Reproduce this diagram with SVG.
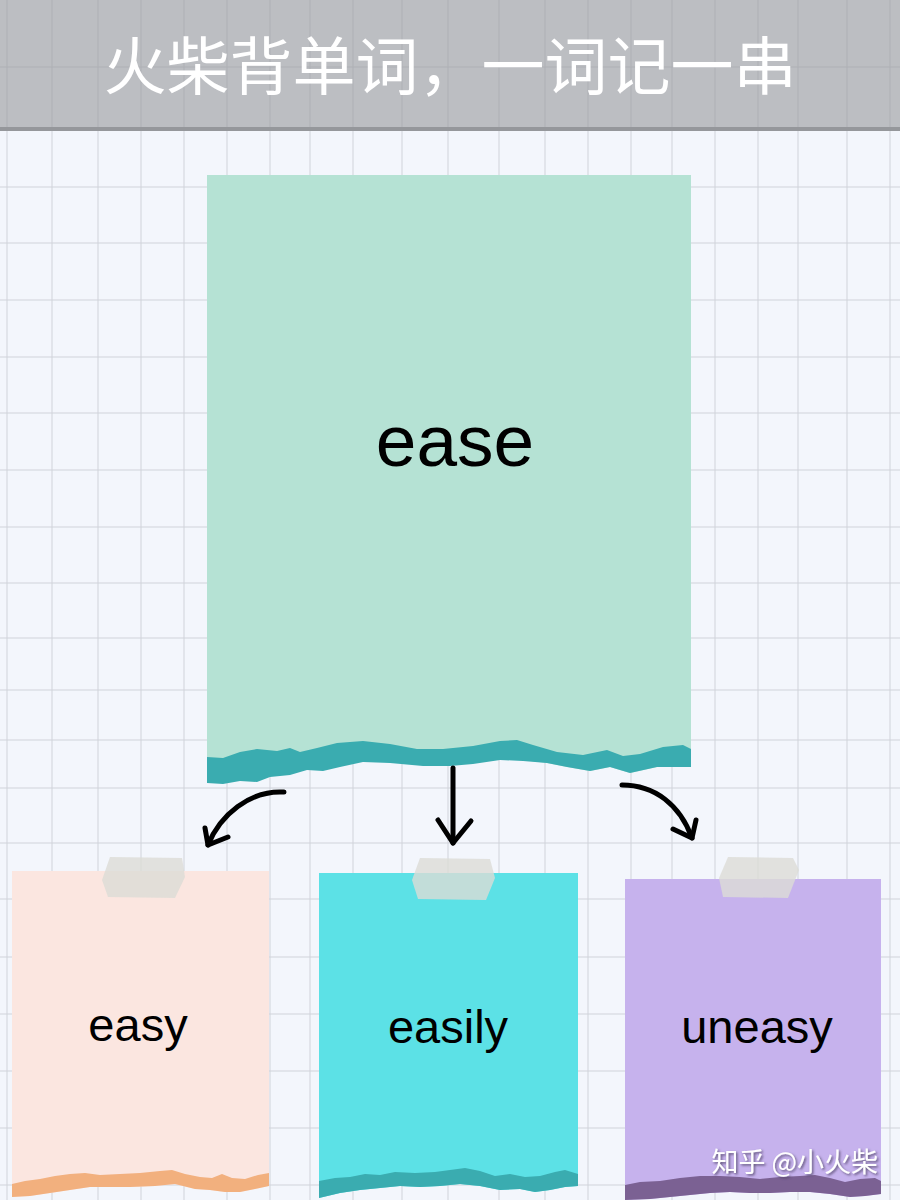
<svg xmlns="http://www.w3.org/2000/svg" width="900" height="1200" viewBox="0 0 900 1200">
<style>
.grid{stroke:#d0d3da;stroke-width:1;fill:none}
.hgrid{stroke:#aeb0b5;stroke-width:1;fill:none}
.word{font-family:"Liberation Sans",Arial,sans-serif;fill:#000;text-anchor:middle}
.tape{fill:#dcdcd6;opacity:0.8}
.arrow{fill:none;stroke:#000;stroke-width:5;stroke-linecap:round;stroke-linejoin:round}
</style>
<defs>
<filter id="sh" x="-10%" y="-30%" width="120%" height="160%">
<feDropShadow dx="1.5" dy="1.5" stdDeviation="0.8" flood-color="#4a4060" flood-opacity="0.8"/>
</filter>
</defs>
<rect x="0" y="0" width="900" height="1200" fill="#f3f6fc"/>
<g id="grid">
<path class="grid" d="M7,130V1200M52,130V1200M98,130V1200M141,130V1200M184,130V1200M227,130V1200M270,130V1200M310,130V1200M353,130V1200M402,130V1200M448,130V1200M499,130V1200M545,130V1200M588,130V1200M631,130V1200M672,130V1200M715,130V1200M758,130V1200M798,130V1200M847,130V1200M890,130V1200"/>
<path class="grid" d="M0,187H900M0,243H900M0,300H900M0,357H900M0,413H900M0,470H900M0,527H900M0,583H900M0,638H900M0,690H900M0,740H900M0,788H900M0,843H900M0,899H900M0,957H900M0,1014H900M0,1071H900M0,1128H900M0,1185H900"/>
</g>
<g id="header">
<rect x="0" y="0" width="900" height="130" fill="#bcbec2"/>
<path class="hgrid" d="M7,0V130M52,0V130M98,0V130M141,0V130M184,0V130M227,0V130M270,0V130M310,0V130M353,0V130M402,0V130M448,0V130M499,0V130M545,0V130M588,0V130M631,0V130M672,0V130M715,0V130M758,0V130M798,0V130M847,0V130M890,0V130M0,67H900"/>
<rect x="0" y="127" width="900" height="4" fill="#95979b"/>
<text x="450" y="89" font-family="'Noto Sans CJK SC',sans-serif" font-size="63" fill="#ffffff" text-anchor="middle">火柴背单词，一词记一串</text>
</g>
<g id="node-ease">
<path fill="#b5e2d4" d="M207,175H691V767L657,767L630,773L610,767L590,771L567,767L547,763L523,760L500,759L473,763L450,765L423,765L390,762L363,760L340,765L323,770L307,768L290,773L270,775L257,781L240,780L223,783L207,782Z"/>
<path fill="#3aacb0" d="M207,757L223,758L240,752L257,749L277,751L290,748L300,752L317,748L337,743L363,741L390,744L417,749L443,749L473,746L500,741L517,740L533,745L557,752L583,755L607,750L623,756L640,754L663,747L683,745L691,749L691,767L657,767L630,773L610,767L590,771L567,767L547,763L523,761L500,760L473,764L450,766L423,766L390,763L363,762L340,767L323,771L307,770L290,775L270,777L257,782L240,781L223,784L207,783Z"/>
<text class="word" x="455" y="466" font-size="73">ease</text>
</g>
<g id="connectors">
<path class="arrow" d="M284,792C250,790 220,815 208,845"/>
<path class="arrow" d="M205,828L208,845L228,837"/>
<path class="arrow" d="M453,768L453,843" stroke-width="6"/>
<path class="arrow" d="M438,820L453,843L471,821" stroke-width="6"/>
<path class="arrow" d="M622,785C655,785 680,805 692,838"/>
<path class="arrow" d="M673,829L692,838L696,820"/>
</g>
<g id="node-easy">
<path fill="#fbe6e0" d="M12,871H269V1186L255,1189L240,1192L225,1192L210,1190L195,1189L175,1184L155,1186L130,1187L110,1187L90,1187L70,1190L50,1193L30,1196L12,1197Z"/>
<path fill="#f2b07e" d="M12,1184L25,1181L40,1179L55,1176L70,1174L85,1173L100,1175L120,1174L140,1173L160,1171L172,1170L185,1174L200,1177L212,1178L222,1174L232,1178L245,1179L258,1175L269,1173L269,1186L255,1189L240,1192L225,1192L210,1190L195,1189L175,1184L155,1186L130,1187L110,1187L90,1187L70,1190L50,1193L30,1196L12,1197Z"/>
<path class="tape" d="M110,857L182,858L185,877L175,898L108,897L102,880Z"/>
<text class="word" x="138" y="1041" font-size="47">easy</text>
</g>
<g id="node-easily">
<path fill="#5ce1e6" d="M319,873H578V1186L565,1187L550,1190L535,1192L520,1189L500,1190L480,1186L460,1184L440,1186L420,1187L400,1186L380,1188L360,1190L340,1193L319,1198Z"/>
<path fill="#3aacb0" d="M319,1181L335,1178L350,1177L365,1174L380,1175L395,1172L415,1173L435,1172L450,1170L465,1168L480,1171L495,1176L510,1174L525,1177L540,1176L555,1172L565,1170L578,1174L578,1186L565,1187L550,1190L535,1192L520,1189L500,1190L480,1186L460,1184L440,1186L420,1187L400,1186L380,1188L360,1190L340,1193L319,1198Z"/>
<path class="tape" d="M420,858L490,859L495,878L486,900L418,899L412,880Z"/>
<text class="word" x="448" y="1043" font-size="47">easily</text>
</g>
<g id="node-uneasy">
<path fill="#c6b2ed" d="M625,879H881V1194L865,1196L850,1197L830,1194L810,1192L790,1192L770,1193L750,1193L730,1192L710,1193L690,1195L670,1197L650,1199L625,1200Z"/>
<path fill="#7b6193" d="M625,1185L640,1182L660,1181L680,1178L700,1176L720,1176L740,1177L760,1179L780,1177L800,1176L815,1175L830,1178L845,1182L860,1179L875,1178L881,1181L881,1194L865,1196L850,1197L830,1194L810,1192L790,1192L770,1193L750,1193L730,1192L710,1193L690,1195L670,1197L650,1199L625,1200Z"/>
<path class="tape" d="M728,857L793,858L799,870L788,898L723,897L719,878Z"/>
<text class="word" x="757" y="1043" font-size="47">uneasy</text>
</g>
<text x="878" y="1172" font-family="'Noto Sans CJK SC',sans-serif" font-size="27" fill="#ffffff" text-anchor="end" filter="url(#sh)">知乎 @小火柴</text>
</svg>
